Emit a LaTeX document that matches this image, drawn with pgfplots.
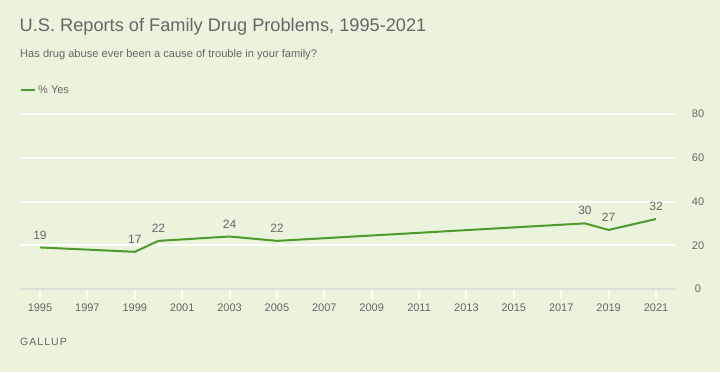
\documentclass[border=0pt]{standalone}
\usepackage{pgfplots}
\pgfplotsset{compat=1.18}
\usepackage{fontspec}
\setmainfont{Liberation Sans}
\definecolor{bgc}{HTML}{EBF3DD}
\definecolor{lnc}{HTML}{4E9A2C}
\definecolor{txc}{HTML}{666666}
\definecolor{basec}{HTML}{DCDFD6}
\begin{document}
\begin{tikzpicture}[x=1bp,y=1bp]
\fill[bgc] (0,0) rectangle (720,372);
\node[anchor=west,inner sep=0,text=txc,font=\fontsize{18.2bp}{22bp}\selectfont] at (19.5,345) {U.S. Reports of Family Drug Problems, 1995-2021};
\node[anchor=west,inner sep=0,text=txc,font=\fontsize{11.1bp}{13bp}\selectfont] at (20,317) {Has drug abuse ever been a cause of trouble in your family?};
\node[anchor=west,inner sep=0,text=txc,font=\fontsize{10.5bp}{13bp}\selectfont\addfontfeature{LetterSpace=10}] at (20,30) {GALLUP};
\begin{axis}[
  at={(20bp,83bp)}, anchor=south west,
  scale only axis, width=656bp, height=175bp,
  xmin=1994.156, xmax=2021.844, ymin=0, ymax=80,
  axis line style={draw=none},
  xtick={1995,1997,...,2021},
  xticklabel style={/pgf/number format/1000 sep={}, text=txc, font=\fontsize{11bp}{13bp}\selectfont, yshift=-1bp},
  /pgf/number format/assume math mode=true,
  x tick style={draw=white, line width=2bp},
  tick align=outside, major tick length=10bp,
  xtick pos=bottom,
  ytick={20,40,60,80},
  extra y ticks={0},
  extra y tick style={grid style={draw=basec, line width=2bp}},
  ytick style={draw=none},
  yticklabel pos=right,
  yticklabel style={text=txc, font=\fontsize{11bp}{13bp}\selectfont, anchor=center, xshift=12bp},
  ymajorgrids, grid style={draw=white, line width=2bp},
  legend style={draw=none, fill=none, at={(0,1.137)}, anchor=west, inner sep=0pt, font=\fontsize{11bp}{13bp}\selectfont, text=txc},
  legend image code/.code={\draw[#1] (0bp,0bp) -- (14bp,0bp);},
  nodes near coords,
  every node near coord/.append style={text=txc, font=\fontsize{12bp}{14bp}\selectfont, anchor=south, yshift=4bp},
  clip=false,
]
\addplot[lnc, line width=2bp, mark=none] coordinates {
 (1995,19) (1999,17) (2000,22) (2003,24) (2005,22) (2018,30) (2019,27) (2021,32)
};
\addlegendentry{\% Yes}
\end{axis}
\end{tikzpicture}
\end{document}
